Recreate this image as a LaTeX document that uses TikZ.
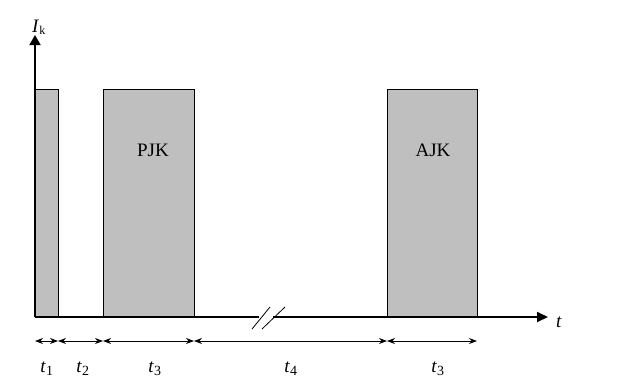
\documentclass[tikz,border=0pt]{standalone}
\usepackage{fontspec}
\setmainfont{Liberation Serif}
\usetikzlibrary{arrows.meta}
\begin{document}
\begin{tikzpicture}[x=1pt,y=-1pt,
  bar/.style={draw=black,fill=black!25,line width=1.3pt},
  axisline/.style={line width=1.8pt},
  dim/.style={line width=0.8pt,{Stealth[length=8pt,width=6pt]}-{Stealth[length=8pt,width=6pt]}},
  lbl/.style={font=\fontsize{19}{22}\selectfont},
  tl/.style={font=\fontsize{19}{22}\selectfont}]
\useasboundingbox (0,0) rectangle (626,384);
% bars
\node[bar,minimum width=23pt,minimum height=227pt,inner sep=0,anchor=south west] (b1) at (35,317) {};
\node[bar,minimum width=91pt,minimum height=227pt,inner sep=0,anchor=south west] (b2) at (103,317) {};
\node[bar,minimum width=90pt,minimum height=227pt,inner sep=0,anchor=south west] (b3) at (387,317) {};
\node[lbl] (pjk) at (153,150) {PJK};
\node[lbl] (ajk) at (433,150) {AJK};
% axes
\coordinate (o) at (35,317);
\coordinate (ytip) at (35,35);
\coordinate (xtip) at (548,317);
\draw[axisline,-{Triangle[length=10pt,width=11pt]}] (o) -- (ytip);
\draw[axisline,-{Triangle[length=11pt,width=10pt]}] (o) -- (xtip);
\node[tl,anchor=base west,inner sep=0] (ik) at (32,32) {\textit{I}\textsubscript{\fontsize{12}{14}\selectfont k}};
\node[tl,anchor=base west,inner sep=0] (t) at (556,327) {\textit{t}};
% break marks
\coordinate (k1a) at (252,329); \coordinate (k1b) at (270,307);
\coordinate (k2a) at (262,329); \coordinate (k2b) at (285,307);
\fill[white] (259,315) -- (273,315) -- (273,319.5) -- (259,319.5) -- cycle;
\draw[line width=0.8pt] (k1a) -- (k1b);
\draw[line width=0.8pt] (k2a) -- (k2b);
% dimension arrows
\coordinate (d0) at (35,341);
\coordinate (d1) at (58,341);
\coordinate (d2) at (103,341);
\coordinate (d3) at (194,341);
\coordinate (d4) at (387,341);
\coordinate (d5) at (477,341);
\draw[dim] (d0) -- (d1);
\draw[dim] (d1) -- (d2);
\draw[dim] (d2) -- (d3);
\draw[dim] (d3) -- (d4);
\draw[dim] (d4) -- (d5);
\node[tl,anchor=base,inner sep=0] (t1) at (47,372) {\textit{t}\textsubscript{\fontsize{14}{16}\selectfont 1}};
\node[tl,anchor=base,inner sep=0] (t2) at (83,372) {\textit{t}\textsubscript{\fontsize{14}{16}\selectfont 2}};
\node[tl,anchor=base,inner sep=0] (t3a) at (155,372) {\textit{t}\textsubscript{\fontsize{14}{16}\selectfont 3}};
\node[tl,anchor=base,inner sep=0] (t4) at (291,372) {\textit{t}\textsubscript{\fontsize{14}{16}\selectfont 4}};
\node[tl,anchor=base,inner sep=0] (t3b) at (438,372) {\textit{t}\textsubscript{\fontsize{14}{16}\selectfont 3}};
\end{tikzpicture}
\end{document}
